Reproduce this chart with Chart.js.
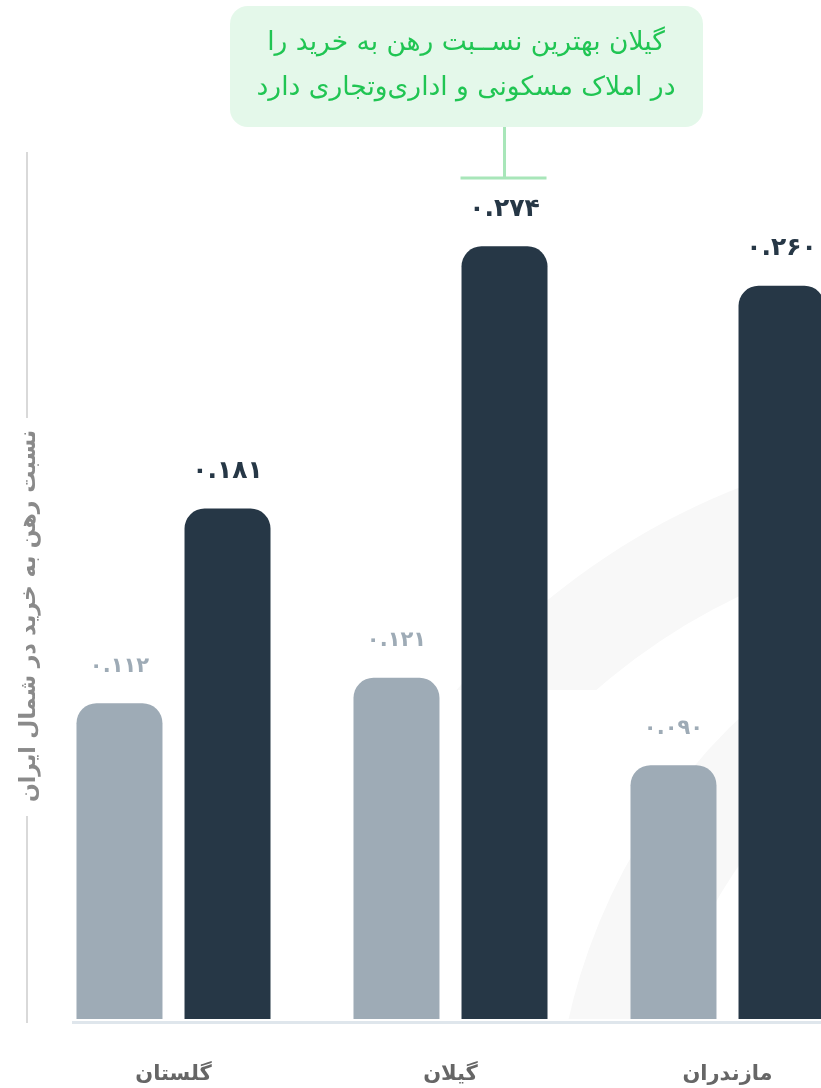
<!DOCTYPE html>
<html lang="fa">
<head>
<meta charset="utf-8">
<title>نسبت رهن به خرید در شمال ایران</title>
<script src="https://cdn.jsdelivr.net/npm/chart.js@4/dist/chart.umd.min.js"></script>
<style>
  html, body { margin: 0; padding: 0; background: #fff; overflow: hidden; }
</style>
</head>
<body>
<canvas id="chart" width="866" height="1088"></canvas>
<script>
const provinces = ['گلستان', 'گیلان', 'مازندران'];
const lightValues = [0.112, 0.121, 0.090];
const darkValues = [0.181, 0.274, 0.260];
const axisTitle = 'نسبت رهن به خرید در شمال ایران';
const noteLines = ['گیلان بهترین نســبت رهن به خرید را', 'در املاک مسکونی و اداری\u200cوتجاری دارد'];

const FONT = '"DejaVu Sans", "Noto Sans", sans-serif';
const faDigits = '۰۱۲۳۴۵۶۷۸۹';
const toFa = v => v.toFixed(3).replace(/[0-9]/g, d => faDigits[d]);

function roundRect(c, x, y, w, h, r) {
    c.beginPath();
    c.moveTo(x + r, y);
    c.arcTo(x + w, y, x + w, y + h, r);
    c.arcTo(x + w, y + h, x, y + h, r);
    c.arcTo(x, y + h, x, y, r);
    c.arcTo(x, y, x + w, y, r);
    c.closePath();
}

// faint logo arcs behind the bars
const backdrop = {
    id: 'backdrop',
    beforeDatasetsDraw(chart) {
        const c = chart.ctx, a = chart.chartArea;
        c.save();
        c.beginPath();
        c.rect(a.left, a.top, a.right - a.left, a.bottom - a.top);
        c.clip();
        c.fillStyle = '#f8f8f8';
        c.save();
        c.beginPath();
        c.rect(a.left, a.top, a.right - a.left, 690 - a.top);
        c.clip();
        c.beginPath();
        c.arc(1000, 1150, 712, 0, Math.PI * 2);
        c.arc(1000, 1150, 612, 0, Math.PI * 2, true);
        c.fill();
        c.restore();
        c.beginPath();
        c.arc(1150, 1150, 596, 0, Math.PI * 2);
        c.arc(1150, 1150, 500, 0, Math.PI * 2, true);
        c.fill();
        c.restore();
    }
};

const decorations = {
    id: 'decorations',
    afterDatasetsDraw(chart) {
        const c = chart.ctx, a = chart.chartArea;
        c.save();
        // baseline
        c.fillStyle = '#dfe6ec';
        c.fillRect(72, a.bottom + 2, chart.width - 72, 3);

        // value labels above bars
        c.textAlign = 'center';
        c.textBaseline = 'middle';
        chart.data.datasets.forEach((ds, i) => {
            chart.getDatasetMeta(i).data.forEach((bar, j) => {
                c.fillStyle = ds.labelColor;
                c.font = ds.labelFont;
                c.fillText(toFa(ds.data[j]), bar.x, bar.y - 37);
            });
        });

        // vertical axis title with rules
        c.fillStyle = '#d9d9d9';
        c.fillRect(26, 152, 2, 266);
        c.fillRect(26, 816, 2, 207);
        c.save();
        c.translate(29, 616);
        c.rotate(-Math.PI / 2);
        c.fillStyle = '#8a8a8a';
        c.font = 'bold 22px ' + FONT;
        c.fillText(axisTitle, 0, 0);
        c.restore();

        // callout over the top bar
        const top = chart.getDatasetMeta(1).data[1];
        c.fillStyle = '#e4f8ea';
        roundRect(c, 230, 6, 473, 121, 18);
        c.fill();
        c.fillStyle = '#20c553';
        c.font = '26.5px ' + FONT;
        c.fillText(noteLines[0], 466, 43);
        c.fillText(noteLines[1], 466, 88);
        c.strokeStyle = '#a8e6b9';
        c.lineWidth = 3;
        c.beginPath();
        c.moveTo(top.x, 127);
        c.lineTo(top.x, 178);
        c.moveTo(top.x - 44, 178);
        c.lineTo(top.x + 42, 178);
        c.stroke();
        c.restore();
    }
};

new Chart(document.getElementById('chart'), {
    type: 'bar',
    data: {
        labels: provinces,
        datasets: [{
            data: lightValues,
            backgroundColor: '#9eabb6',
            labelColor: '#9eabb6',
            labelFont: 'bold 21px ' + FONT,
            borderRadius: { topLeft: 20, topRight: 20, bottomLeft: 0, bottomRight: 0 },
            borderSkipped: 'start',
            categoryPercentage: 0.78,
            barPercentage: 0.796
        }, {
            data: darkValues,
            backgroundColor: '#263746',
            labelColor: '#263746',
            labelFont: 'bold 25px ' + FONT,
            borderRadius: { topLeft: 20, topRight: 20, bottomLeft: 0, bottomRight: 0 },
            borderSkipped: 'start',
            categoryPercentage: 0.78,
            barPercentage: 0.796
        }]
    },
    options: {
        responsive: false,
        animation: false,
        layout: { padding: { top: 173, left: 35, right: 0, bottom: 0 } },
        plugins: { legend: { display: false }, tooltip: { enabled: false } },
        scales: {
            x: {
                grid: { display: false, drawTicks: false },
                border: { display: false },
                afterFit(scale) { scale.height = 69; },
                ticks: {
                    padding: 43,
                    color: '#666666',
                    font: { family: FONT, size: 21, weight: 'bold' }
                }
            },
            y: { display: false, min: 0, max: 0.3 }
        }
    },
    plugins: [backdrop, decorations]
});
</script>
</body>
</html>
